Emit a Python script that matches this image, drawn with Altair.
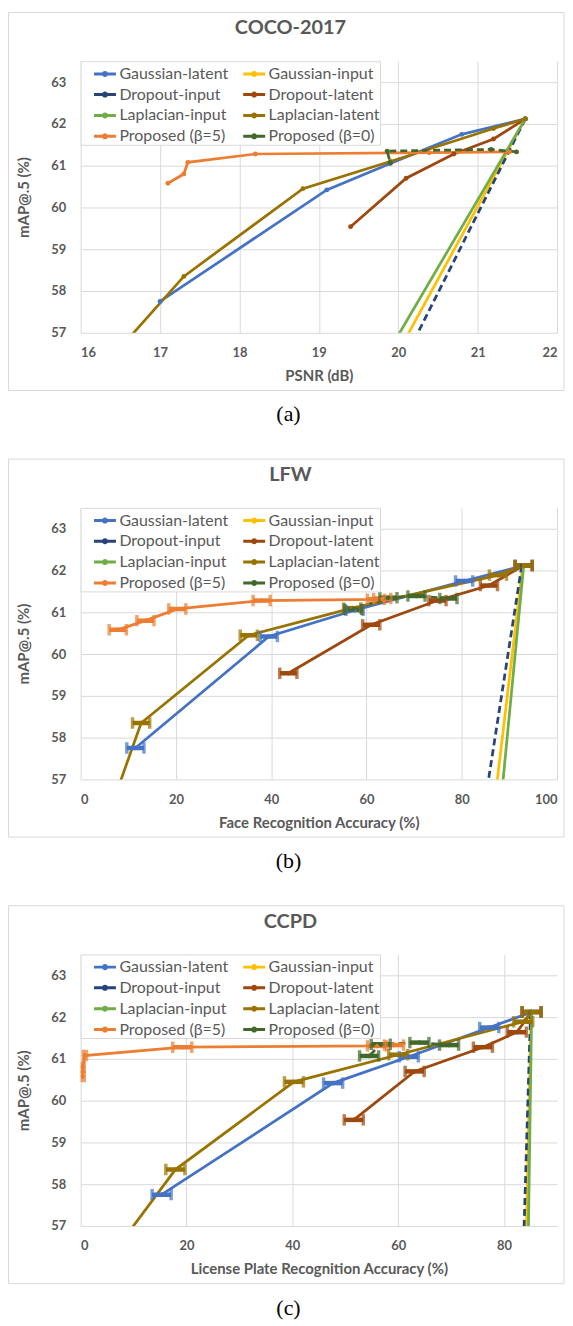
import altair as alt
import pandas as pd

METHODS = ["Gaussian-latent", "Gaussian-input", "Dropout-input", "Dropout-latent",
           "Laplacian-input", "Laplacian-latent", "Proposed (β=5)", "Proposed (β=0)"]
LINE_COLORS = ["#4472C4", "#FFC000", "#264478", "#9E480E",
               "#70AD47", "#997300", "#ED7D31", "#43682B"]
MARKER_FILLS = ["#B4C7E7", "#FFC000", "#264478", "#F4B183",
                "#70AD47", "#FFE699", "#FFFF00", "#A9D18E"]
DASHED = ["Dropout-input", "Proposed (β=0)"]
# legend is filled column by column: left column first, then right column
LEGEND_ORDER = ["Gaussian-latent", "Dropout-input", "Laplacian-input", "Proposed (β=5)",
                "Gaussian-input", "Dropout-latent", "Laplacian-latent", "Proposed (β=0)"]

# mAP@.5 (%) of each series (same for the three datasets)
MAP_GAUSS_LAT = [62.12, 61.75, 61.05, 60.42, 57.75]
MAP_GAUSS_IN = [62.12, 55.0]
MAP_DROP_IN = [62.12, 55.0]
MAP_DROP_LAT = [62.12, 61.64, 61.28, 60.70, 59.54]
MAP_LAP_IN = [62.12, 55.0]
MAP_LAP_LAT = [62.12, 61.89, 61.10, 60.45, 58.35, 56.0]
MAP_PROP5 = [61.33, 61.31, 61.28, 61.08, 60.80, 60.58]
MAP_PROP0 = [61.33, 61.39, 61.35, 61.07]

# COCO-2017: PSNR (dB)
COCO_GAUSS_LAT = [21.6, 20.8, 19.9, 19.1, 17.0]
COCO_GAUSS_IN = [21.6, 19.56]
COCO_DROP_IN = [21.6, 19.72]
COCO_DROP_LAT = [21.6, 21.2, 20.7, 20.1, 19.4]
COCO_LAP_IN = [21.6, 19.40]
COCO_LAP_LAT = [21.6, 21.2, 19.9, 18.8, 17.3, 16.2]
COCO_PROP5 = [21.4, 20.39, 18.2, 17.35, 17.3, 17.1]
COCO_PROP0 = [21.49, 21.17, 19.86, 19.9]

# LFW: face recognition accuracy (%)
LFW_GAUSS_LAT = [93.0, 80.5, 57.5, 39.5, 11.5]
LFW_GAUSS_IN = [92.8, 85.4]
LFW_DROP_IN = [92.6, 82.9]
LFW_DROP_LAT = [93.0, 85.7, 74.9, 61.0, 43.6]
LFW_LAP_IN = [93.0, 87.0]
LFW_LAP_LAT = [93.0, 87.6, 57.0, 35.3, 12.7, 5.4]
LFW_PROP5 = [63.3, 62.0, 38.0, 20.3, 13.6, 7.8]
LFW_PROP0 = [77.2, 70.5, 64.6, 57.2]

# CCPD: license plate recognition accuracy (%)
CCPD_GAUSS_LAT = [85.2, 77.2, 62.0, 47.7, 15.3]
CCPD_GAUSS_IN = [85.1, 83.85]
CCPD_DROP_IN = [85.0, 83.3]
CCPD_DROP_LAT = [85.2, 82.4, 76.0, 63.1, 51.6]
CCPD_LAP_IN = [85.2, 84.37]
CCPD_LAP_LAT = [85.2, 83.6, 60.0, 40.3, 17.9, 4.1]
CCPD_PROP5 = [59.2, 56.0, 19.2, 0.8, 0.4, 0.4]
CCPD_PROP0 = [69.6, 64.0, 56.7, 54.5]

# half-width of the horizontal error bars (accuracy %)
LFW_ERR_GAUSS_LAT = [1.8, 1.8, 1.8, 1.8, 1.8]
LFW_ERR_DROP_LAT = [1.8, 1.8, 1.8, 1.8, 1.8]
LFW_ERR_LAP_LAT = [1.8, 1.8, 1.8, 1.8, 1.8, 1.8]
LFW_ERR_PROP5 = [1.8, 1.8, 1.8, 1.8, 1.8, 1.8]
LFW_ERR_PROP0 = [1.8, 1.8, 1.8, 1.8]
CCPD_ERR_GAUSS_LAT = [1.8, 1.8, 1.8, 1.8, 1.8]
CCPD_ERR_DROP_LAT = [1.8, 1.8, 1.8, 1.8, 1.8]
CCPD_ERR_LAP_LAT = [1.8, 1.8, 1.8, 1.8, 1.8, 1.8]
CCPD_ERR_PROP5 = [1.8, 1.8, 1.8, 0.3, 0.3, 0.3]
CCPD_ERR_PROP0 = [1.8, 1.8, 1.8, 1.8]

Y_TICKS = [57, 58, 59, 60, 61, 62, 63]
X_TICKS_COCO = [16, 17, 18, 19, 20, 21, 22]
X_TICKS_LFW = [0, 20, 40, 60, 80, 100]
X_TICKS_CCPD = [0, 20, 40, 60, 80]
PANEL_TITLES = ["COCO-2017", "LFW", "CCPD"]
X_TITLES = ["PSNR (dB)", "Face Recognition Accuracy (%)",
            "License Plate Recognition Accuracy (%)"]
CAPTIONS = ["(a)", "(b)", "(c)"]

MAPS = [MAP_GAUSS_LAT, MAP_GAUSS_IN, MAP_DROP_IN, MAP_DROP_LAT,
        MAP_LAP_IN, MAP_LAP_LAT, MAP_PROP5, MAP_PROP0]

W, H = 479, 273
FONT = "Lato"
GREY = "#595959"
SYMBOL = "M-1,0H1M-0.14,0A0.14,0.14,0,1,1,0.14,0A0.14,0.14,0,1,1,-0.14,0"
COLOR_OF = dict(zip(METHODS, LINE_COLORS))
LEGEND_COLORS = [COLOR_OF[m] for m in LEGEND_ORDER]


def table(xs_lists, err_lists):
    rows = []
    for m, ys, xs, es in zip(METHODS, MAPS, xs_lists, err_lists):
        for k, (x, y) in enumerate(zip(xs, ys)):
            r = {"method": m, "k": k, "x": x, "y": y, "lo": None, "hi": None}
            if es:
                r["lo"] = x - es[k]
                r["hi"] = x + es[k]
            rows.append(r)
    return pd.DataFrame(rows)


LEG = alt.Legend(title=None, orient="top-left", offset=0, columns=2,
                 fillColor="white", strokeColor="#D9D9D9", padding=0,
                 symbolType=SYMBOL, symbolSize=484, symbolStrokeWidth=3,
                 labelFont=FONT, labelFontSize=16, labelColor=GREY,
                 rowPadding=-5, columnPadding=1, symbolOffset=12,
                 labelOffset=2, labelLimit=300,
                 labelExpr="datum.label + '\\u00a0\\u00a0\\u00a0'")


def panel(df, xdom, xticks, title, xtitle, caption, markers, with_err, bottom):
    xenc = alt.X("x:Q", scale=alt.Scale(domain=xdom, nice=False, zero=False),
                 axis=alt.Axis(values=xticks, title=xtitle, labelPadding=14,
                               titlePadding=9, format="d"))
    yenc = alt.Y("y:Q", scale=alt.Scale(domain=[57, 63.5], nice=False, zero=False),
                 axis=alt.Axis(values=Y_TICKS, title="mAP@.5 (%)", labelPadding=15,
                               titlePadding=19, format="d"))
    cscale = alt.Scale(domain=LEGEND_ORDER, range=LEGEND_COLORS)
    one = pd.DataFrame({"k": [0]})
    layers = [
        alt.Chart(one).mark_rect(opacity=0).encode(
            x=alt.value(-73), x2=alt.value(W + 8), y=alt.value(-50), y2=alt.value(bottom)),
        alt.Chart(one).mark_rect(fillOpacity=0, stroke="#D9D9D9", strokeWidth=1).encode(
            x=alt.value(-72.5), x2=alt.value(W + 7), y=alt.value(-49), y2=alt.value(H + 58)),
        alt.Chart(one).mark_text(text=title, font=FONT, fontWeight="bold", fontSize=20,
                                 color=GREY, baseline="middle").encode(
            x=alt.value(211), y=alt.value(-33)),
        alt.Chart(one).mark_text(text=caption, font="Liberation Serif", fontSize=22,
                                 color="black", baseline="middle").encode(
            x=alt.value(209), y=alt.value(355)),
    ]
    for m in METHODS:
        sub = df[df.method == m]
        kw = dict(strokeWidth=2.75, clip=True)
        if m in DASHED:
            kw["strokeDash"] = [7, 4]
        layers.append(alt.Chart(sub).mark_line(**kw).encode(
            x=xenc, y=yenc, order="k:Q",
            color=alt.Color("method:N", scale=cscale, legend=LEG)))
    if with_err:
        err = df.dropna(subset=["lo"])
        sscale = alt.Scale(domain=METHODS, range=LINE_COLORS)
        layers.append(alt.Chart(err).mark_rule(strokeWidth=4.5, clip=True).encode(
            x="lo:Q", x2="hi:Q", y="y:Q",
            stroke=alt.Stroke("method:N", scale=sscale, legend=None)))
        for end in ["lo", "hi"]:
            layers.append(alt.Chart(err).mark_tick(
                orient="vertical", filled=False, thickness=1, size=9,
                strokeWidth=2.5, clip=True).encode(
                x=f"{end}:Q", y="y:Q",
                stroke=alt.Stroke("method:N", scale=sscale, legend=None)))
    if markers == "circle":
        layers.append(alt.Chart(df).mark_point(shape="circle", filled=True, size=24,
                                               opacity=1, clip=True).encode(
            x="x:Q", y="y:Q",
            fill=alt.Fill("method:N", scale=alt.Scale(domain=METHODS, range=LINE_COLORS),
                          legend=None)))
    else:
        layers.append(alt.Chart(df).mark_point(shape="diamond", filled=True, size=26,
                                               opacity=1, clip=True).encode(
            x="x:Q", y="y:Q",
            fill=alt.Fill("method:N", scale=alt.Scale(domain=METHODS, range=MARKER_FILLS),
                          legend=None)))
    return alt.layer(*layers).properties(width=W, height=H)


coco = table([COCO_GAUSS_LAT, COCO_GAUSS_IN, COCO_DROP_IN, COCO_DROP_LAT,
              COCO_LAP_IN, COCO_LAP_LAT, COCO_PROP5, COCO_PROP0],
             [None] * 8)
lfw = table([LFW_GAUSS_LAT, LFW_GAUSS_IN, LFW_DROP_IN, LFW_DROP_LAT,
             LFW_LAP_IN, LFW_LAP_LAT, LFW_PROP5, LFW_PROP0],
            [LFW_ERR_GAUSS_LAT, None, None, LFW_ERR_DROP_LAT,
             None, LFW_ERR_LAP_LAT, LFW_ERR_PROP5, LFW_ERR_PROP0])
ccpd = table([CCPD_GAUSS_LAT, CCPD_GAUSS_IN, CCPD_DROP_IN, CCPD_DROP_LAT,
              CCPD_LAP_IN, CCPD_LAP_LAT, CCPD_PROP5, CCPD_PROP0],
             [CCPD_ERR_GAUSS_LAT, None, None, CCPD_ERR_DROP_LAT,
              None, CCPD_ERR_LAP_LAT, CCPD_ERR_PROP5, CCPD_ERR_PROP0])

pa = panel(coco, [16, 22], X_TICKS_COCO, PANEL_TITLES[0], X_TITLES[0], CAPTIONS[0],
           "circle", False, 399)
pb = panel(lfw, [0, 100], X_TICKS_LFW, PANEL_TITLES[1], X_TITLES[1], CAPTIONS[1],
           "diamond", True, 399)
pc = panel(ccpd, [0, 90], X_TICKS_CCPD, PANEL_TITLES[2], X_TITLES[2], CAPTIONS[2],
           "diamond", True, 362)

chart = alt.vconcat(pa, pb, pc, spacing=0).properties(
    padding={"left": 0, "top": 0, "right": 0, "bottom": 0}
).configure_view(stroke=None).configure_axis(
    labelFont=FONT, labelFontWeight="bold", labelFontSize=13, labelColor=GREY,
    titleFont=FONT, titleFontWeight="bold", titleFontSize=15, titleColor=GREY,
    gridColor="#D9D9D9", gridWidth=1, domain=False, ticks=False, tickSize=0
).resolve_scale(x="independent", y="independent", color="independent")

chart.save("out.html", embed_options={"renderer": "svg", "actions": False})
